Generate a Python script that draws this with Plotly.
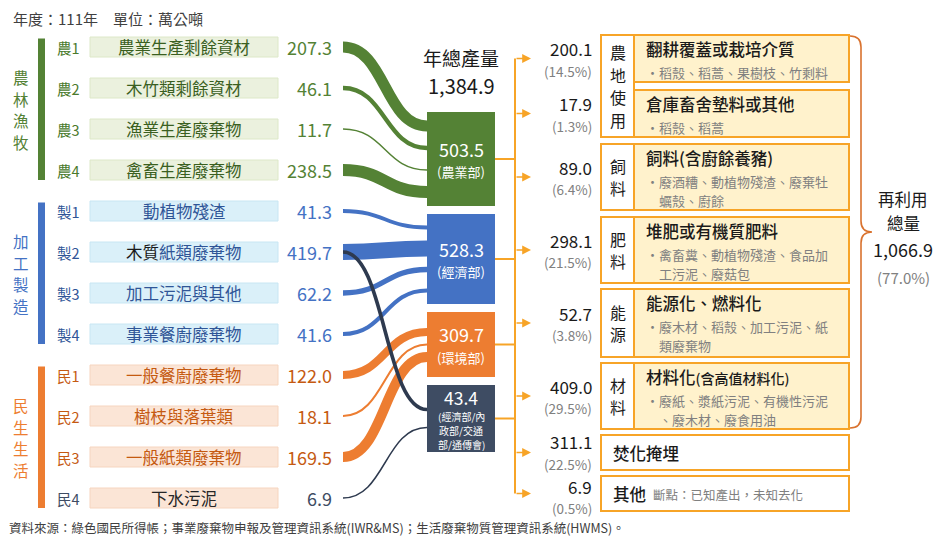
import plotly.graph_objects as go
import math

# ---------------- data ----------------
group_names = ["農林漁牧", "加工製造", "民生生活"]
source_codes = ["農1", "農2", "農3", "農4", "製1", "製2", "製3", "製4", "民1", "民2", "民3", "民4"]
source_labels = ["農業生產剩餘資材", "木竹類剩餘資材", "漁業生產廢棄物", "禽畜生產廢棄物",
                 "動植物殘渣", "木質紙類廢棄物", "加工污泥與其他", "事業餐廚廢棄物",
                 "一般餐廚廢棄物", "樹枝與落葉類", "一般紙類廢棄物", "下水污泥"]
source_values = [207.3, 46.1, 11.7, 238.5, 41.3, 419.7, 62.2, 41.6, 122.0, 18.1, 169.5, 6.9]
source_group = [0, 0, 0, 0, 1, 1, 1, 1, 2, 2, 2, 2]

node_values = [503.5, 528.3, 309.7, 43.4]
node_labels = [["(農業部)"], ["(經濟部)"], ["(環境部)"], ["(經濟部/內", "政部/交通", "部/通傳會)"]]
total_output = 1384.9

link_source = [0, 1, 2, 3, 4, 5, 6, 7, 5, 8, 9, 10, 11]
link_target = [0, 0, 0, 0, 1, 1, 1, 1, 3, 2, 2, 2, 3]
link_value = [207.3, 46.1, 11.7, 238.5, 41.3, 383.2, 62.2, 41.6, 36.5, 122.0, 18.1, 169.5, 6.9]

out_values = [200.1, 17.9, 89.0, 298.1, 52.7, 409.0, 311.1, 6.9]
out_pct = [14.5, 1.3, 6.4, 21.5, 3.8, 29.5, 22.5, 0.5]
out_titles = ["翻耕覆蓋或栽培介質", "倉庫畜舍墊料或其他", "飼料(含廚餘養豬)", "堆肥或有機質肥料",
              "能源化、燃料化", "材料化<span style='font-size:14px'>(含高值材料化)</span>", "焚化掩埋", "其他"]
out_details = [["稻殼、稻蒿、果樹枝、竹剩料"], ["稻殼、稻蒿"],
               ["廢酒糟、動植物殘渣、廢棄牡", "蠣殼、廚餘"],
               ["禽畜糞、動植物殘渣、食品加", "工污泥、廢菇包"],
               ["廢木材、稻殼、加工污泥、紙", "類廢棄物"],
               ["廢紙、漿紙污泥、有機性污泥", "、廢木材、廢食用油"], [], []]
out_notes = ["", "", "", "", "", "", "", "斷點：已知產出，未知去化"]
out_category = ["農地使用", "農地使用", "飼料", "肥料", "能源", "材料", None, None]
reuse_total = 1066.9
reuse_pct = 77.0

header_text = "年度：111年　單位：萬公噸"
footer_text = "資料來源：綠色國民所得帳；事業廢棄物申報及管理資訊系統(IWR&MS)；生活廢棄物質管理資訊系統(HWMS)。"

# ---------------- style / layout ----------------
FONT = "Noto Sans CJK TC"
W, H = 945, 539
GROUP_MAIN = ["#548235", "#4472C4", "#ED7D31"]
GROUP_CODE = ["#4A7A2C", "#2F5597", "#C55A11"]
GROUP_LABEL = ["#3A5F1F", "#2F5597", "#C55A11"]
GROUP_VALUE = ["#548235", "#4472C4", "#C55A11"]
GROUP_FILL = ["#EBF1DE", "#DAF0F9", "#FBE5D6"]
GROUP_FILL_LINE = ["#DDE8C8", "#C8E6F3", "#F6D5BF"]
DARK = "#3E4C63"
DARK_LINE = "#2E3A4F"
NODE_COLORS = ["#548235", "#4472C4", "#ED7D31", DARK]
ORANGE = "#F7A427"
BRACE = "#D9722E"
GRAY = "#808080"

ROW_Y0, ROW_STEP = 47, 41
row_y = [ROW_Y0 + ROW_STEP * i for i in range(len(source_codes))]
LABEL_X0, LABEL_X1 = 90, 278
VALUE_X = 333
CODE_X = 56
FLOW_X0, FLOW_X1 = 343, 427
NODE_X0, NODE_X1 = 427, 495
NODE_Y = [(112, 206), (214, 304), (312, 377), (385, 452)]
NODE_SPREAD = [22, 21, 12.5, 18]
TRUNK_X, ARROW_X = 515, 531
OUT_VALUE_X = 593
OUT_TEXT_SHIFT = [0, 0, 0, 0, 0, 0, -1, 2.5]
CAT_X0, CAT_X1, BOX_X1 = 601, 634, 849
BOX_Y = [(35, 82), (90, 137), (144, 210), (217, 283), (289, 357), (363, 429), (435, 470), (476, 511)]

shapes = []
ann = []


def txt(x, y, text, size, color, xanchor="center", weight=None, yanchor="middle"):
    f = dict(family=FONT, size=size, color=color)
    if weight:
        f["weight"] = weight
    ann.append(dict(x=x, y=y, xref="x", yref="y", text=text, showarrow=False,
                    xanchor=xanchor, yanchor=yanchor, font=f, borderpad=0, align="left"))


def lines(x, yc, items, size, color, step, xanchor="center"):
    n = len(items)
    for m, t in enumerate(items):
        txt(x, yc + (m - (n - 1) / 2) * step, t, size, color, xanchor=xanchor)


def rect(x0, y0, x1, y1, fill, line=None, lw=0):
    shapes.append(dict(type="rect", xref="x", yref="y", x0=x0, y0=y0, x1=x1, y1=y1,
                       fillcolor=fill, line=dict(color=line or fill, width=lw), layer="above"))


def seg(x0, y0, x1, y1, color, lw):
    shapes.append(dict(type="line", xref="x", yref="y", x0=x0, y0=y0, x1=x1, y1=y1,
                       line=dict(color=color, width=lw), layer="above"))


# header / footer
txt(12, 18, header_text, 15, "#404040", xanchor="left")
txt(8, 527.5, footer_text, 12.5, "#404040", xanchor="left")

# group bars + labels
for g, name in enumerate(group_names):
    idx = [i for i, s in enumerate(source_group) if s == g]
    top = row_y[idx[0]] - 8.5
    bot = row_y[idx[-1]] + 10
    rect(38, top, 45, bot, GROUP_MAIN[g])
    lines(21, (row_y[idx[0]] + row_y[idx[-1]]) / 2 + 1, list(name), 15.5, GROUP_MAIN[g], 21.5)

# source rows
for i, code in enumerate(source_codes):
    g = source_group[i]
    y = row_y[i]
    last = (i == len(source_codes) - 1)
    rect(LABEL_X0, y - 10, LABEL_X1, y + 10, GROUP_FILL[g], GROUP_FILL_LINE[g], 1)
    ccol = DARK if last else GROUP_CODE[g]
    vcol = DARK if last else GROUP_VALUE[g]
    lcol = "#262626" if last else GROUP_LABEL[g]
    label = source_labels[i]
    if label.startswith("木質紙"):
        label = "<span style='color:#1a1a1a'>木質</span>" + label[2:]
    txt(CODE_X, y, code, 14.5, ccol, xanchor="left")
    txt((LABEL_X0 + LABEL_X1) / 2, y, label, 16.5, lcol)
    txt(VALUE_X, y, f"{source_values[i]:.1f}", 18, vcol, xanchor="right")


# flows
def sig_path(x0, y0, x1, y1):
    xm = (x0 + x1) / 2
    return f"M {x0},{y0} C {xm},{y0} {xm},{y1} {x1},{y1}"


landing = {}
for k in range(len(node_values)):
    ls = sorted([j for j, t in enumerate(link_target) if t == k], key=lambda j: link_source[j])
    c = (NODE_Y[k][0] + NODE_Y[k][1]) / 2
    n = len(ls)
    for m, j in enumerate(ls):
        landing[j] = c + (m - (n - 1) / 2) * NODE_SPREAD[k]

order = sorted(range(len(link_value)), key=lambda j: (link_target[j] == 3, link_target[j]))
for j in order:
    s = link_source[j]
    t = link_target[j]
    w = max(1.5, 0.9 * math.sqrt(link_value[j]) - 1.8)
    color = DARK_LINE if t == 3 else GROUP_MAIN[source_group[s]]
    shapes.append(dict(type="path", xref="x", yref="y",
                       path=sig_path(FLOW_X0, row_y[s], FLOW_X1, landing[j]),
                       line=dict(color=color, width=w), layer="above"))

# nodes
for k, v in enumerate(node_values):
    y0, y1 = NODE_Y[k]
    rect(NODE_X0, y0, NODE_X1, y1, NODE_COLORS[k])
    cx = (NODE_X0 + NODE_X1) / 2
    c = (y0 + y1) / 2
    if k < 3:
        txt(cx, c - 10.5, f"{v:.1f}", 18, "white")
        txt(cx, c + 12.5, node_labels[k][0], 13, "white")
    else:
        txt(cx, y0 + 12.5, f"{v:.1f}", 17.5, "white")
        lines(cx, y0 + 45, node_labels[k], 10, "white", 14)
    seg(NODE_X1, c, TRUNK_X, c, ORANGE, 2)

txt((NODE_X0 + NODE_X1) / 2, 57.5, "年總產量", 19, "#1a1a1a")
txt((NODE_X0 + NODE_X1) / 2, 85.5, f"{total_output:,.1f}", 20, "#1a1a1a")

# outputs
centers = [(a + b) / 2 for a, b in BOX_Y]
seg(TRUNK_X, centers[0], TRUNK_X, centers[-1], ORANGE, 2)
for i, v in enumerate(out_values):
    c = centers[i]
    ann.append(dict(x=ARROW_X, y=c, ax=TRUNK_X, ay=c, xref="x", yref="y", axref="x", ayref="y",
                    text="", showarrow=True, arrowhead=2, arrowsize=1.1, arrowwidth=1.6,
                    arrowcolor=ORANGE))
    ty = c + OUT_TEXT_SHIFT[i]
    txt(OUT_VALUE_X, ty - 10, f"{v:.1f}", 17, "#1a1a1a", xanchor="right")
    txt(OUT_VALUE_X, ty + 12.2, f"({out_pct[i]:.1f}%)", 13.5, GRAY, xanchor="right")

# category boxes
cats = []
for i, cname in enumerate(out_category):
    if cname is None:
        continue
    if cats and cats[-1][0] == cname:
        cats[-1][2] = BOX_Y[i][1]
    else:
        cats.append([cname, BOX_Y[i][0], BOX_Y[i][1]])
for cname, y0, y1 in cats:
    rect(CAT_X0, y0, CAT_X1, y1, "white", ORANGE, 2)
    lines((CAT_X0 + CAT_X1) / 2, (y0 + y1) / 2, list(cname), 16, "#1a1a1a", 22.5)

for i, title in enumerate(out_titles):
    y0, y1 = BOX_Y[i]
    if out_category[i] is not None:
        rect(CAT_X1, y0, BOX_X1, y1, "#FFF2CC", ORANGE, 2)
        txt(645, y0 + 13.5, title, 16.5, "#1a1a1a", xanchor="left", weight=500)
        for m, line in enumerate(out_details[i]):
            ly = y0 + 37.5 + m * 18.5
            if m == 0:
                txt(645, ly, "•", 13, GRAY, xanchor="left")
            txt(658, ly, line, 13, GRAY, xanchor="left")
    else:
        rect(CAT_X0, y0, BOX_X1, y1, "white", ORANGE, 2)
        txt(612, (y0 + y1) / 2, title, 16.5, "#1a1a1a", xanchor="left", weight=500)
        if out_notes[i]:
            txt(652, (y0 + y1) / 2 + 1, out_notes[i], 12.5, GRAY, xanchor="left")

# brace over reuse outputs
reuse_idx = [i for i, c in enumerate(out_category) if c is not None]
bt = BOX_Y[reuse_idx[0]][0] + 1
bb = BOX_Y[reuse_idx[-1]][1] - 1
bm = (bt + bb) / 2
bx = 861
brace = (f"M 850,{bt} Q {bx},{bt} {bx},{bt + 11} L {bx},{bm - 11} Q {bx},{bm} {bx + 11},{bm} "
         f"Q {bx},{bm} {bx},{bm + 11} L {bx},{bb - 11} Q {bx},{bb} 850,{bb}")
shapes.append(dict(type="path", xref="x", yref="y", path=brace,
                   line=dict(color=BRACE, width=1.6), layer="above"))
lines(903, 211, ["再利用", "總量"], 16.5, "#1a1a1a", 23.5)
txt(903, 249, f"{reuse_total:,.1f}", 18, "#1a1a1a")
txt(903, 277, f"({reuse_pct:.1f}%)", 15, GRAY)

fig = go.Figure()
fig.add_trace(go.Scatter(x=[0, W], y=[0, H], mode="markers", marker=dict(opacity=0),
                         hoverinfo="skip", showlegend=False))
fig.update_layout(width=W, height=H, margin=dict(l=0, r=0, t=0, b=0, pad=0),
                  paper_bgcolor="white", plot_bgcolor="white", showlegend=False,
                  font=dict(family=FONT),
                  xaxis=dict(range=[0, W], visible=False, fixedrange=True),
                  yaxis=dict(range=[H, 0], visible=False, fixedrange=True),
                  shapes=shapes, annotations=ann)
fig.write_html("out.html", config={"displayModeBar": False})
